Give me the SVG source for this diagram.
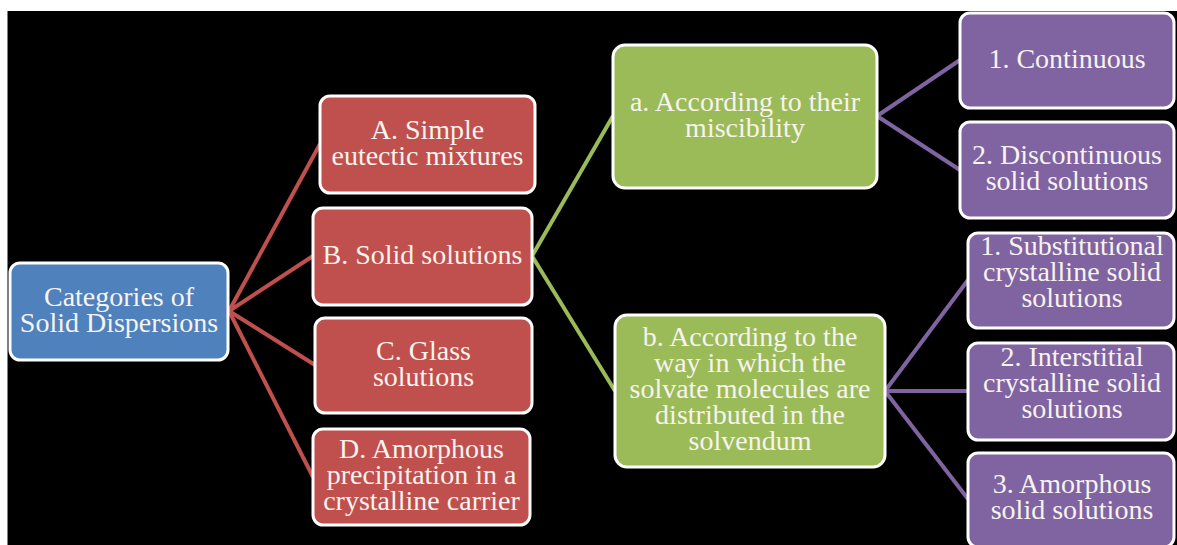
<svg xmlns="http://www.w3.org/2000/svg" width="1177" height="545" viewBox="0 0 1177 545">
<style>
.box{stroke:#FFFFFF;stroke-width:3}
.blue{fill:#4F81BD}
.red{fill:#C0504D}
.green{fill:#9BBB59}
.purple{fill:#8064A2}
.t{font-family:"Liberation Serif","Times New Roman",serif;font-size:28px;fill:#F7F3EE;text-anchor:middle}
.cr{stroke:#C0504D;stroke-width:4;fill:none}
.cg{stroke:#9BBB59;stroke-width:4;fill:none}
.cp{stroke:#8064A2;stroke-width:4;fill:none}
</style>
<rect x="0" y="0" width="1177" height="545" fill="#FFFFFF"/>
<rect x="7.5" y="11" width="1170" height="534" fill="#000000"/>
<g id="connectors">
<line class="cr" x1="229" y1="311" x2="320" y2="144"/>
<line class="cr" x1="229" y1="311" x2="313" y2="256"/>
<line class="cr" x1="229" y1="311" x2="315" y2="365"/>
<line class="cr" x1="229" y1="311" x2="313" y2="477"/>
<line class="cg" x1="532" y1="256" x2="613" y2="116"/>
<line class="cg" x1="532" y1="256" x2="615" y2="391"/>
<line class="cp" x1="877" y1="116" x2="960" y2="60"/>
<line class="cp" x1="877" y1="116" x2="960" y2="170"/>
<line class="cp" x1="885" y1="391" x2="968" y2="280"/>
<line class="cp" x1="885" y1="391" x2="968" y2="391"/>
<line class="cp" x1="885" y1="391" x2="968" y2="499"/>
</g>
<g id="root">
<rect class="box blue" x="10" y="263" width="218" height="97" rx="10"/>
<text class="t" x="119" y="305.5">Categories of</text>
<text class="t" x="119" y="331.5">Solid Dispersions</text>
</g>
<g id="nodeA">
<rect class="box red" x="320" y="96" width="215" height="97" rx="10"/>
<text class="t" x="427.5" y="138.5">A. Simple</text>
<text class="t" x="427.5" y="164.5">eutectic mixtures</text>
</g>
<g id="nodeB">
<rect class="box red" x="313" y="208" width="219" height="97" rx="10"/>
<text class="t" x="422.5" y="263.5">B. Solid solutions</text>
</g>
<g id="nodeC">
<rect class="box red" x="315" y="318" width="217" height="95" rx="10"/>
<text class="t" x="423.5" y="359.5">C. Glass</text>
<text class="t" x="423.5" y="385.5">solutions</text>
</g>
<g id="nodeD">
<rect class="box red" x="313" y="429" width="217" height="96" rx="10"/>
<text class="t" x="421.5" y="458">D. Amorphous</text>
<text class="t" x="421.5" y="484">precipitation in a</text>
<text class="t" x="421.5" y="510">crystalline carrier</text>
</g>
<g id="nodeMiscibility">
<rect class="box green" x="613" y="45" width="264" height="143" rx="12"/>
<text class="t" x="745" y="110.5">a. According to their</text>
<text class="t" x="745" y="136.5">miscibility</text>
</g>
<g id="nodeDistribution">
<rect class="box green" x="615" y="315" width="270" height="152" rx="12"/>
<text class="t" x="750" y="346">b. According to the</text>
<text class="t" x="750" y="372">way in which the</text>
<text class="t" x="750" y="398">solvate molecules are</text>
<text class="t" x="750" y="424">distributed in the</text>
<text class="t" x="750" y="450">solvendum</text>
</g>
<g id="nodeContinuous">
<rect class="box purple" x="960" y="13" width="214" height="95" rx="10"/>
<text class="t" x="1067" y="68">1. Continuous</text>
</g>
<g id="nodeDiscontinuous">
<rect class="box purple" x="960" y="122" width="214" height="96" rx="10"/>
<text class="t" x="1067" y="164">2. Discontinuous</text>
<text class="t" x="1067" y="190">solid solutions</text>
</g>
<g id="nodeSubstitutional">
<rect class="box purple" x="968" y="233" width="206" height="95" rx="10"/>
<text class="t" x="1072" y="254.5">1. Substitutional</text>
<text class="t" x="1072" y="280.5">crystalline solid</text>
<text class="t" x="1072" y="306.5">solutions</text>
</g>
<g id="nodeInterstitial">
<rect class="box purple" x="968" y="343" width="206" height="97" rx="10"/>
<text class="t" x="1072" y="365.5">2. Interstitial</text>
<text class="t" x="1072" y="391.5">crystalline solid</text>
<text class="t" x="1072" y="417.5">solutions</text>
</g>
<g id="nodeAmorphous">
<rect class="box purple" x="968" y="453" width="206" height="94" rx="10"/>
<text class="t" x="1072" y="493">3. Amorphous</text>
<text class="t" x="1072" y="519">solid solutions</text>
</g>
</svg>
